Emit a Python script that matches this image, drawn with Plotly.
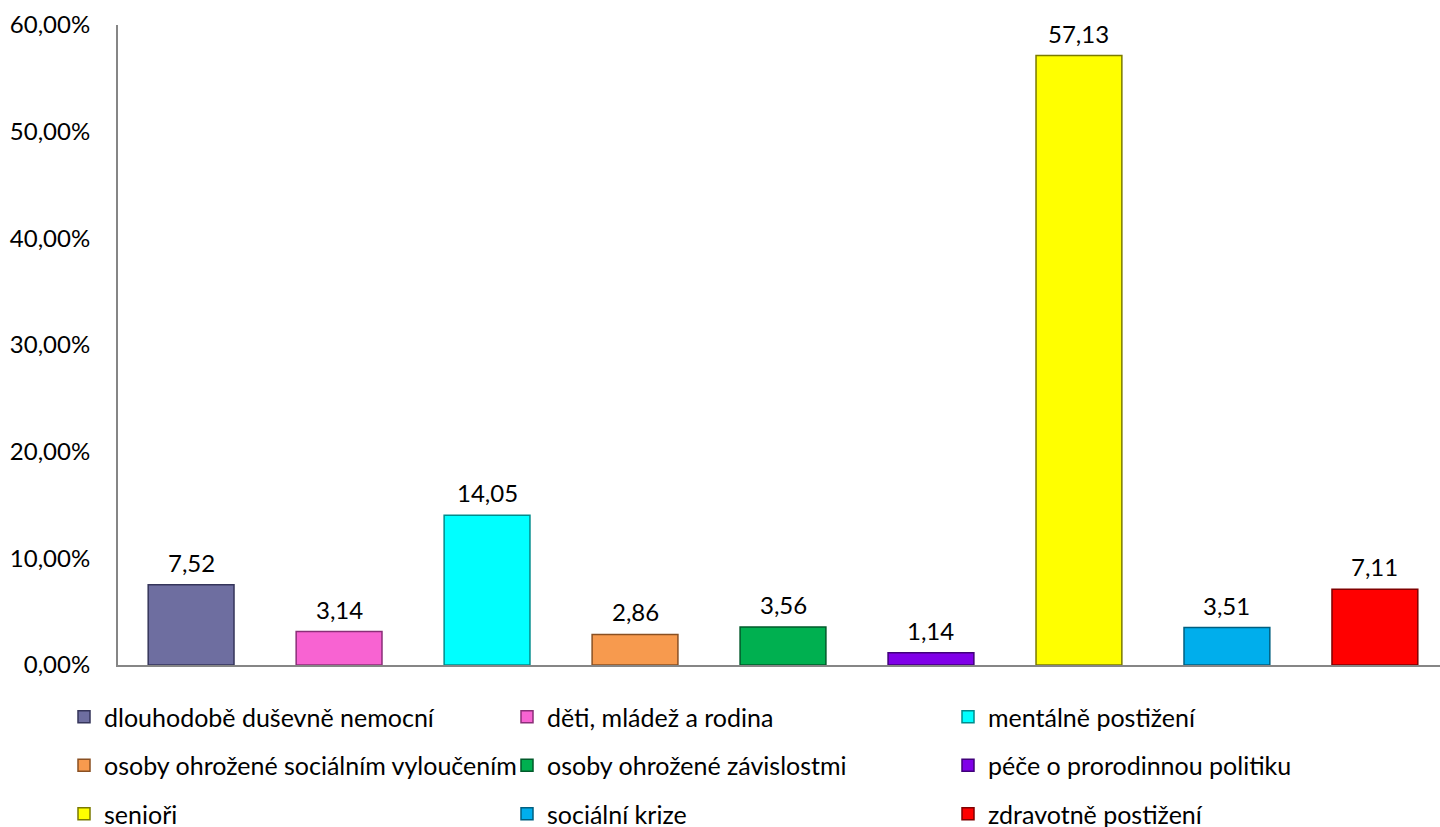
import plotly.graph_objects as go

categories = ["dlouhodobě duševně nemocní", "děti, mládež a rodina", "mentálně postižení",
              "osoby ohrožené sociálním vyloučením", "osoby ohrožené závislostmi",
              "péče o prorodinnou politiku", "senioři", "sociální krize", "zdravotně postižení"]
values = [7.52, 3.14, 14.05, 2.86, 3.56, 1.14, 57.13, 3.51, 7.11]
colors = ["#6E6EA0", "#F863D2", "#00FFFF", "#F79A4E", "#00B050", "#8000E8", "#FFFF00", "#00AEEC", "#FF0000"]
edges = ["#35355A", "#8A2F78", "#008C8C", "#8A5022", "#005A2A", "#40007A", "#7A7A00", "#005F80", "#800000"]
ytick_vals = [0, 10, 20, 30, 40, 50, 60]
ytick_text = [f"{v:.2f}".replace(".", ",") + "%" for v in ytick_vals]

FONT = "Lato"
FS = 24
LFS = 25

fig = go.Figure()
legend_names = ["legend", "legend2", "legend3"]
for i, (c, v) in enumerate(zip(categories, values)):
    fig.add_trace(go.Bar(
        x=[c], y=[v], name=c,
        marker=dict(color=colors[i], line=dict(color=edges[i], width=1.5)),
        width=0.58,
        legend=legend_names[i % 3],
        legendgroup=c,
        hoverinfo="x+y",
    ))
    fig.add_annotation(x=c, y=v, text=f"{v:.2f}".replace(".", ","), showarrow=False,
                       yanchor="bottom", yshift=6, font=dict(family=FONT, size=FS, color="#000"))

W, H = 1440, 827
L, R, T, B = 118, 0, 25, 162
pw, ph = W - L - R, H - T - B

def px2x(px):
    return (px - L) / pw

def py2y(py):
    return (H - B - py) / ph

leg_common = dict(font=dict(family=FONT, size=LFS, color="#000"), bgcolor="rgba(0,0,0,0)",
                  xanchor="left", yanchor="top", orientation="v", tracegroupgap=13,
                  itemclick=False)
col_px = [64, 507, 948]
layout_legends = {}
for k, ln in enumerate(legend_names):
    layout_legends[ln] = dict(leg_common, x=px2x(col_px[k]), y=py2y(694))

fig.update_layout(
    width=W, height=H,
    margin=dict(l=L, r=R, t=T, b=B, autoexpand=False),
    paper_bgcolor="white", plot_bgcolor="white",
    barmode="overlay",
    showlegend=True,
    font=dict(family=FONT, size=FS, color="#000"),
    xaxis=dict(showticklabels=False, showgrid=False, showline=True, linecolor="#868686", linewidth=2,
               ticks="", range=[-0.494, 8.44], fixedrange=True),
    yaxis=dict(range=[0, 60], tickvals=ytick_vals, ticktext=ytick_text,
               showgrid=False, showline=True, linecolor="#868686", linewidth=2, ticks="",
               ticklabelstandoff=21, zeroline=False, tickfont=dict(family=FONT, size=FS, color="#000")),
    **layout_legends,
)

fig.write_html("out.html", config={"displayModeBar": False},
               post_script="document.body.style.margin='0px';document.body.style.overflow='hidden';")
